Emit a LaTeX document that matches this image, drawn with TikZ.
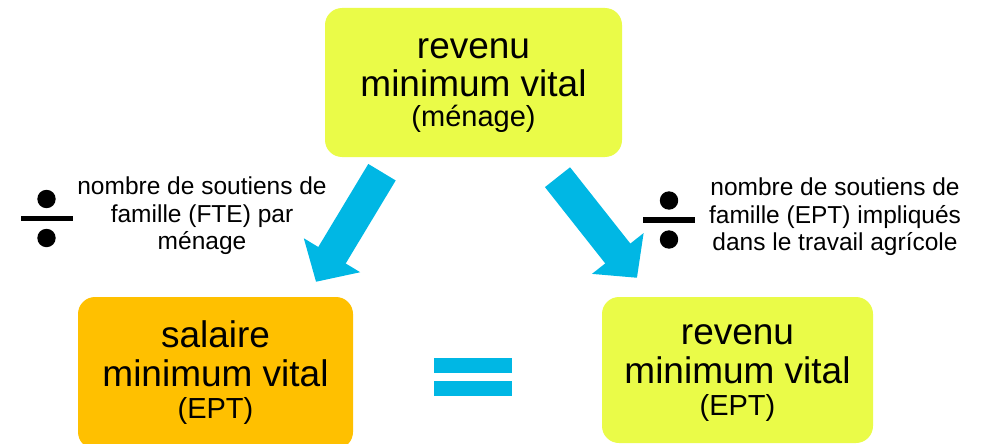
\documentclass[tikz,border=0pt]{standalone}
\usepackage{fontspec}
\setmainfont{Liberation Sans}
\usetikzlibrary{arrows.meta}
\definecolor{limefill}{RGB}{234,251,72}
\definecolor{orangefill}{RGB}{255,192,0}
\definecolor{cyanfill}{RGB}{0,183,228}

\begin{document}
\begin{tikzpicture}[x=1pt,y=-1pt,
  box/.style={rounded corners=17pt,minimum width=297pt,minimum height=149pt,
    inner sep=0pt,align=center,text depth=0pt,font=\fontsize{37}{38.5}\selectfont},
  sidetext/.style={align=center,font=\fontsize{24.5}{27.5}\selectfont},
  bigarrow/.style={draw=cyanfill,line width=32pt,-{Triangle[length=31pt,width=64pt]}},
  eqbar/.style={fill=cyanfill,minimum width=78pt,minimum height=15pt,inner sep=0pt},
  divsign/.pic={
    \fill (-26pt,-2.75pt) rectangle (26pt,2.75pt);
    \fill (0pt,-19.5pt) circle (9.2pt);
    \fill (0pt,19.5pt) circle (9.2pt);
  }]
  \useasboundingbox (0,0) rectangle (985,444);

  \node[box,fill=limefill] (rmv) at (473.5,82.5)
    {revenu\\minimum vital\\[-8.5pt]{\fontsize{29}{31}\selectfont (ménage)}};
  \node[box,fill=orangefill,minimum width=275pt,minimum height=152pt,text depth=6pt] (smv) at (215.5,373)
    {salaire\\minimum vital\\[-6pt]{\fontsize{29}{31}\selectfont (EPT)}};
  \node[box,fill=limefill,minimum width=271pt,minimum height=146pt] (rmvept) at (737.5,370)
    {revenu\\minimum vital\\[-6.5pt]{\fontsize{29}{31}\selectfont (EPT)}};

  \node[eqbar] (eqtop) at (473,365) {};
  \node[eqbar] (eqbot) at (473,388) {};

  \pic at (46.5,218.5) {divsign};
  \node[sidetext] (fte) at (202,216)
    {nombre de soutiens de\\famille (FTE) par\\ménage};
  \pic at (669,220) {divsign};
  \node[sidetext] (ept) at (835,217)
    {nombre de soutiens de\\famille (EPT) impliqués\\dans le travail agrícole};

  \draw[bigarrow] ([xshift=-91.5pt,yshift=-15pt]rmv.south) -- ([xshift=100.5pt,yshift=15pt]smv.north);
  \draw[bigarrow] ([xshift=84pt,yshift=-20pt]rmv.south) -- ([xshift=-100.5pt,yshift=19pt]rmvept.north);
\end{tikzpicture}
\end{document}
